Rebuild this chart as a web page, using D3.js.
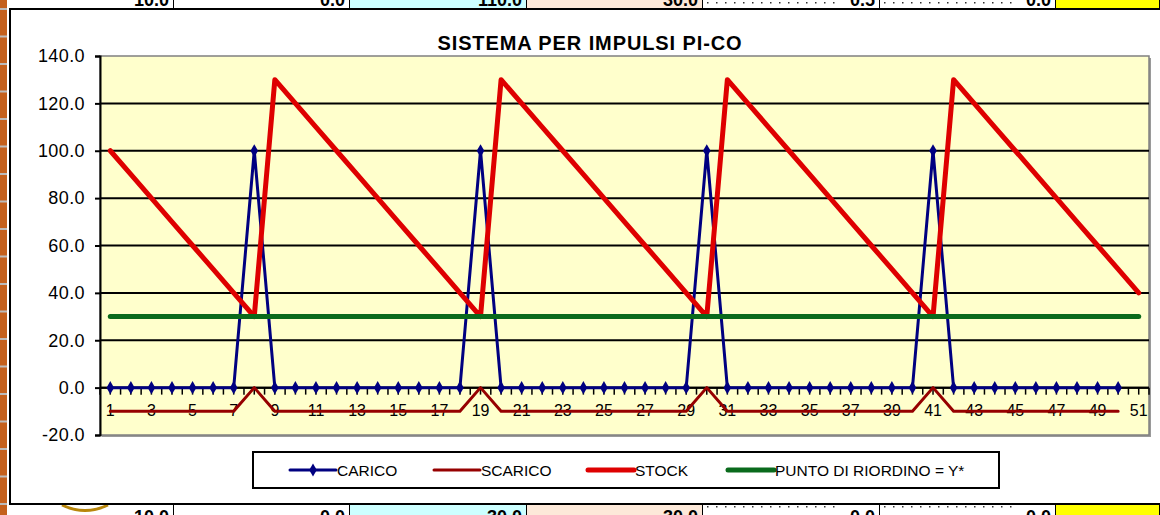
<!DOCTYPE html>
<html>
<head>
    <meta charset="utf-8">
    <title>Sistema per impulsi PI-CO</title>
    <script src="https://cdn.jsdelivr.net/npm/d3@7"></script>
    <style>
        body { margin: 0; background: #fff; font-family: Arial, "Liberation Sans", sans-serif; }
        svg { display: block; }
        .ylab text { font-size: 18px; letter-spacing: 0.4px; }
        .xlab text { font-size: 16px; }
        .leg text { font-size: 15.5px; }
        .cell text { font-size: 18px; font-weight: bold; }
    </style>
</head>
<body>
<svg width="1160" height="515"></svg>
<script>
    // periods 1..51
    const categories = [1,2,3,4,5,6,7,8,9,10,11,12,13,14,15,16,17,18,19,20,21,22,23,24,25,
        26,27,28,29,30,31,32,33,34,35,36,37,38,39,40,41,42,43,44,45,46,47,48,49,50,51];
    const xLabels = [1,3,5,7,9,11,13,15,17,19,21,23,25,27,29,31,33,35,37,39,41,43,45,47,49,51];
    const yTicks = [-20,0,20,40,60,80,100,120,140];

    const carico = [0,0,0,0,0,0,0,100,0,0, 0,0,0,0,0,0,0,0,100,0, 0,0,0,0,0,0,0,0,0,100,
        0,0,0,0,0,0,0,0,0,0, 100,0,0,0,0,0,0,0,0,0];
    const scarico = [-10,-10,-10,-10,-10,-10,-10,0,-10,-10, -10,-10,-10,-10,-10,-10,-10,-10,0,-10,
        -10,-10,-10,-10,-10,-10,-10,-10,-10,0, -10,-10,-10,-10,-10,-10,-10,-10,-10,-10,
        0,-10,-10,-10,-10,-10,-10,-10,-10,-10];
    const stock = [100,90,80,70,60,50,40,30, 130,120,110,100,90,80,70,60,50,40,30,
        130,120,110,100,90,80,70,60,50,40,30, 130,120,110,100,90,80,70,60,50,40,30,
        130,120,110,100,90,80,70,60,50,40];
    const riordino = [30,30,30,30,30,30,30,30,30,30,30,30,30,30,30,30,30,30,30,30,30,30,30,30,30,
        30,30,30,30,30,30,30,30,30,30,30,30,30,30,30,30,30,30,30,30,30,30,30,30,30,30];

    const series = [
        { name: "CARICO", values: carico, color: "#000080", width: 3, marker: true },
        { name: "SCARICO", values: scarico, color: "#960000", width: 3 },
        { name: "STOCK", values: stock, color: "#DE0000", width: 5 },
        { name: "PUNTO DI RIORDINO = Y*", values: riordino, color: "#0A6A1C", width: 5 }
    ];

    // spreadsheet cells around the chart (background)
    const cellEdges = [0, 174, 350, 527, 703, 880, 1056, 1160];
    const cellFill = ["#fff", "#fff", "#CCFFFF", "#FDE9D9", "#fff", "#fff", "#FFFF00"];
    const topCells = ["10.0", "0.0", "110.0", "30.0", "0.5", "0.0", ""];
    const bottomCells = ["10.0", "0.0", "30.0", "30.0", "0.0", "0.0", ""];

    const svg = d3.select("svg");

    function strip(y0, h, texts, baseline) {
        const g = svg.append("g").attr("class", "cell");
        cellFill.forEach((f, i) => {
            g.append("rect").attr("x", cellEdges[i]).attr("y", y0)
                .attr("width", cellEdges[i + 1] - cellEdges[i]).attr("height", h).attr("fill", f);
            if (i === 4 || i === 5) {
                for (let xx = cellEdges[i] + 4; xx < cellEdges[i + 1] - 40; xx += 9)
                    g.append("rect").attr("x", xx).attr("y", y0 + (y0 ? 3 : 2)).attr("width", 1.5)
                        .attr("height", 1.5).attr("fill", "#333");
            }
            g.append("line").attr("x1", cellEdges[i + 1]).attr("x2", cellEdges[i + 1])
                .attr("y1", y0).attr("y2", y0 + h).attr("stroke", "#000").attr("stroke-width", 2);
            g.append("text").attr("x", cellEdges[i + 1] - 5).attr("y", baseline)
                .attr("text-anchor", "end").text(texts[i]);
        });
    }
    strip(0, 10, topCells, 6);
    strip(503, 12, bottomCells, 523);
    svg.append("path").attr("d", "M62,505 Q85,516 108,505").attr("fill", "none")
        .attr("stroke", "#B8860B").attr("stroke-width", 3);

    // orange column edge on the left
    svg.append("rect").attr("x", 0).attr("y", 0).attr("width", 7).attr("height", 515).attr("fill", "#C4601C");
    for (let yy = 8; yy < 515; yy += 27.5)
        svg.append("rect").attr("x", 0).attr("y", yy).attr("width", 7).attr("height", 2).attr("fill", "#bbb");

    // chart frame
    svg.append("rect").attr("x", 10).attr("y", 9).attr("width", 1160).attr("height", 495)
        .attr("fill", "#fff").attr("stroke", "#000").attr("stroke-width", 2);

    const pLeft = 100, pRight = 1149, pTop = 56, pBottom = 435;
    const x = d3.scaleBand().domain(categories).range([pLeft, pRight]);
    const cx = d => x(d) + x.bandwidth() / 2;
    const y = d3.scaleLinear().domain([-20, 140]).range([pBottom, pTop]);

    svg.append("text").attr("x", 590).attr("y", 50).attr("text-anchor", "middle")
        .style("font-size", "20px").style("font-weight", "bold").style("letter-spacing", "0.9px")
        .text("SISTEMA PER IMPULSI  PI-CO");

    // plot area
    svg.append("rect").attr("x", pLeft + 2).attr("y", pTop + 2).attr("width", pRight - pLeft).attr("height", pBottom - pTop)
        .attr("fill", "#9a9a9a");
    svg.append("rect").attr("x", pLeft).attr("y", pTop).attr("width", pRight - pLeft).attr("height", pBottom - pTop)
        .attr("fill", "#FFFFCC").attr("stroke", "#808080").attr("stroke-width", 1.5);

    svg.append("g").selectAll("line").data(yTicks.filter(d => d > -20 && d < 140)).join("line")
        .attr("x1", pLeft).attr("x2", pRight).attr("y1", y).attr("y2", y)
        .attr("stroke", "#000").attr("stroke-width", 2);

    const yAxis = svg.append("g").attr("class", "ylab").attr("transform", `translate(${pLeft},0)`)
        .call(d3.axisLeft(y).tickValues(yTicks).tickSize(5).tickPadding(10).tickFormat(d => d.toFixed(1)));
    yAxis.select(".domain").attr("stroke", "#000").attr("stroke-width", 2);
    yAxis.selectAll(".tick line").attr("stroke", "#000").attr("stroke-width", 2);
    yAxis.selectAll("text").attr("fill", "#000");

    // category axis crossing at 0
    const halfTicks = [];
    categories.forEach(c => { halfTicks.push(x(c), cx(c)); });
    halfTicks.push(pRight);
    svg.append("g").selectAll("line").data(halfTicks).join("line")
        .attr("x1", d => d).attr("x2", d => d).attr("y1", y(0)).attr("y2", y(0) + 7)
        .attr("stroke", "#000").attr("stroke-width", 1.5);
    svg.append("line").attr("x1", pLeft).attr("x2", pRight).attr("y1", y(0)).attr("y2", y(0))
        .attr("stroke", "#000").attr("stroke-width", 2);

    const xAxis = svg.append("g").attr("class", "xlab").attr("transform", `translate(0,${y(0)})`)
        .call(d3.axisBottom(x).tickValues(xLabels).tickSize(0).tickPadding(17));
    xAxis.select(".domain").remove();
    xAxis.selectAll("text").attr("fill", "#000");

    const line = d3.line().x((d, i) => cx(categories[i])).y(d => y(d));
    series.forEach(s => {
        svg.append("path").datum(s.values).attr("d", line).attr("fill", "none")
            .attr("stroke", s.color).attr("stroke-width", s.width)
            .attr("stroke-linejoin", "round").attr("stroke-linecap", "round");
        if (s.marker) {
            svg.append("g").selectAll("path").data(s.values).join("path")
                .attr("transform", (d, i) => `translate(${cx(categories[i])},${y(d)})`)
                .attr("d", d3.symbol(d3.symbolDiamond, 50)).attr("fill", s.color);
        }
    });

    // legend
    const leg = svg.append("g").attr("class", "leg");
    leg.append("rect").attr("x", 253).attr("y", 452).attr("width", 746).attr("height", 36)
        .attr("fill", "#fff").attr("stroke", "#000").attr("stroke-width", 2);
    const legX = [290, 434, 588, 728];
    series.forEach((s, i) => {
        const g = leg.append("g").attr("transform", `translate(${legX[i]},470)`);
        g.append("line").attr("x1", 0).attr("x2", 46).attr("stroke", s.color)
            .attr("stroke-width", s.width).attr("stroke-linecap", "round");
        if (s.marker) g.append("path").attr("transform", "translate(23,0)")
            .attr("d", d3.symbol(d3.symbolDiamond, 50)).attr("fill", s.color);
        g.append("text").attr("x", 47).attr("y", 5.5).text(s.name);
    });
</script>
</body>
</html>
